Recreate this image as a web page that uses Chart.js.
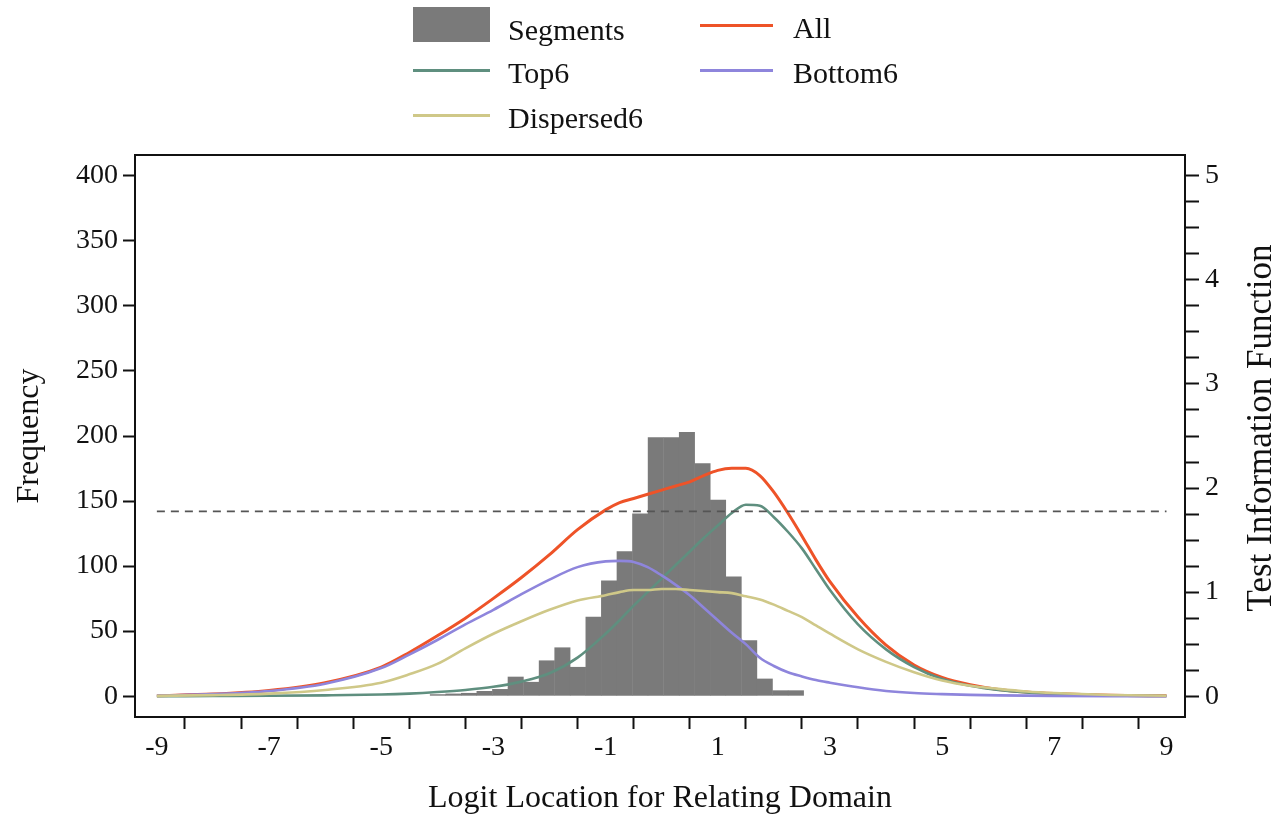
<!DOCTYPE html>
<html>
<head>
<meta charset="utf-8">
<script src="https://cdn.jsdelivr.net/npm/chart.js@4.4.1/dist/chart.umd.min.js"></script>
<style>
  html, body { margin: 0; padding: 0; background: #fff; }
  #wrap { position: relative; width: 1278px; height: 815px; }
  #chart { position: absolute; left: 0; top: 0; }
  .lg { position: absolute; font-family: 'Liberation Serif', serif; font-size: 30px; color: #111; line-height: 30px; }
  .sw { position: absolute; height: 3px; width: 77px; }
</style>
</head>
<body>
<div id="wrap">
  <canvas id="chart" width="1278" height="815"></canvas>
  <div class="sw" style="left:413px;top:7px;height:35px;background:#7a7a7a"></div>
  <div class="lg" style="left:508px;top:15px">Segments</div>
  <div class="sw" style="left:700px;top:24px;width:73px;background:#ee5328"></div>
  <div class="lg" style="left:793px;top:13px">All</div>
  <div class="sw" style="left:413px;top:69px;background:#5f8f7f"></div>
  <div class="lg" style="left:508px;top:58px">Top6</div>
  <div class="sw" style="left:700px;top:69px;width:73px;background:#8e85dc"></div>
  <div class="lg" style="left:793px;top:58px">Bottom6</div>
  <div class="sw" style="left:413px;top:114px;background:#cfc888"></div>
  <div class="lg" style="left:508px;top:103px">Dispersed6</div>
</div>
<script>
// histogram bins (logit centers) and counts
const binCenters = [-3.990, -3.713, -3.435, -3.158, -2.880, -2.603, -2.325, -2.048,
  -1.770, -1.493, -1.215, -0.938, -0.660, -0.383, -0.105, 0.173, 0.450, 0.728,
  1.005, 1.283, 1.560, 1.838, 2.115, 2.393];
const segments = [1.5, 2, 2.5, 4, 5.5, 15, 11, 27.5, 37.5, 22.5, 61, 89, 111.5,
  140.5, 199, 199, 203, 179, 151, 92, 43, 13.5, 4.5, 4.5];

// test information curves
const logit = [-9, -8, -7, -6, -5, -4.5, -4, -3.5, -3, -2.5, -2, -1.5, -1, -0.75,
  -0.5, -0.25, 0, 0.25, 0.5, 0.75, 1, 1.25, 1.5, 1.75, 2, 2.25, 2.5, 2.75, 3,
  3.5, 4, 4.5, 5, 5.5, 6, 6.5, 7, 8, 9];
const allTif = [0.005, 0.02, 0.055, 0.13, 0.28, 0.42, 0.58, 0.75, 0.94, 1.14, 1.36,
  1.60, 1.79, 1.86, 1.90, 1.94, 1.98, 2.02, 2.06, 2.12, 2.17, 2.19, 2.19, 2.12,
  1.96, 1.76, 1.54, 1.31, 1.10, 0.76, 0.49, 0.30, 0.18, 0.11, 0.065, 0.04, 0.025,
  0.008, 0.003];
const top6 = [0, 0.002, 0.004, 0.008, 0.016, 0.025, 0.04, 0.06, 0.09, 0.14, 0.22,
  0.37, 0.60, 0.73, 0.87, 1.00, 1.13, 1.26, 1.39, 1.52, 1.64, 1.76, 1.84, 1.83,
  1.72, 1.58, 1.42, 1.22, 1.02, 0.69, 0.45, 0.28, 0.165, 0.10, 0.06, 0.037, 0.023,
  0.007, 0.002];
const bottom6 = [0.005, 0.02, 0.05, 0.12, 0.27, 0.40, 0.54, 0.69, 0.83, 0.98, 1.12,
  1.24, 1.295, 1.30, 1.29, 1.24, 1.16, 1.07, 0.97, 0.85, 0.73, 0.61, 0.50, 0.37,
  0.29, 0.23, 0.19, 0.155, 0.13, 0.085, 0.05, 0.03, 0.02, 0.013, 0.008, 0.005,
  0.003, 0.001, 0];
const dispersed6 = [0.003, 0.01, 0.025, 0.06, 0.13, 0.21, 0.31, 0.46, 0.60, 0.72,
  0.83, 0.92, 0.97, 1.00, 1.02, 1.02, 1.03, 1.03, 1.02, 1.01, 1.00, 0.99, 0.96,
  0.93, 0.88, 0.82, 0.76, 0.68, 0.60, 0.45, 0.33, 0.23, 0.15, 0.10, 0.07, 0.045,
  0.03, 0.012, 0.004];

// dashed reference line (frequency)
const refX = [-9, 9];
const refFreq = [142, 142];

// ticks
const xTicks = [-9, -8, -7, -6, -5, -4, -3, -2, -1, 0, 1, 2, 3, 4, 5, 6, 7, 8, 9];
const freqTicks = [0, 50, 100, 150, 200, 250, 300, 350, 400];
const tifTicks = [0, 0.25, 0.5, 0.75, 1, 1.25, 1.5, 1.75, 2, 2.25, 2.5, 2.75, 3,
  3.25, 3.5, 3.75, 4, 4.25, 4.5, 4.75, 5];

const pts = (xs, ys) => xs.map((x, i) => ({ x: x, y: ys[i] }));

Chart.defaults.font.family = "'Liberation Serif', serif";
Chart.defaults.color = '#111';

const curve = (label, ys, color, w) => ({
  type: 'line', label: label, data: pts(logit, ys), yAxisID: 'yR',
  borderColor: color, borderWidth: w, pointRadius: 0,
  cubicInterpolationMode: 'monotone', fill: false
});

// box round the plot area, plus the right title read bottom-to-top
const framePlugin = {
  id: 'frame',
  afterDraw(chart) {
    const a = chart.chartArea, ctx = chart.ctx;
    ctx.save();
    ctx.strokeStyle = '#111';
    ctx.lineWidth = 2;
    ctx.strokeRect(a.left, a.top, a.right - a.left, a.bottom - a.top);
    ctx.translate(1262, (a.top + a.bottom) / 2 - 8);
    ctx.rotate(-Math.PI / 2);
    ctx.fillStyle = '#111';
    ctx.font = "35px 'Liberation Serif', serif";
    ctx.textAlign = 'center';
    ctx.textBaseline = 'middle';
    ctx.fillText('Test Information Function', 0, 0);
    ctx.restore();
  }
};

new Chart(document.getElementById('chart'), {
  type: 'line',
  data: {
    datasets: [
      {
        type: 'line', label: 'ref', data: pts(refX, refFreq), yAxisID: 'yL',
        borderColor: '#555', borderWidth: 1.8, borderDash: [8, 6], pointRadius: 0
      },
      curve('Dispersed6', dispersed6, '#cfc888', 2.6),
      curve('Bottom6', bottom6, '#8e85dc', 2.6),
      curve('Top6', top6, '#5f8f7f', 2.6),
      curve('All', allTif, '#ee5328', 3),
      {
        type: 'bar', label: 'Segments', data: pts(binCenters, segments), yAxisID: 'yL',
        backgroundColor: '#7a7a7a', borderWidth: 0,
        barPercentage: 1.03, categoryPercentage: 1, order: 10
      }
    ]
  },
  options: {
    responsive: false,
    animation: false,
    devicePixelRatio: 1,
    layout: { padding: { top: 155, left: 0, right: 0, bottom: 0 } },
    plugins: { legend: { display: false }, tooltip: { enabled: false } },
    scales: {
      x: {
        type: 'linear', min: -9.39, max: 9.33, offset: false,
        afterBuildTicks: s => { s.ticks = xTicks.map(v => ({ value: v })); },
        afterFit: s => { s.height = 98; },
        grid: { drawOnChartArea: false, drawTicks: true, tickLength: 12, tickColor: '#111', tickWidth: 2 },
        border: { display: false },
        ticks: {
          padding: 2, font: { size: 28 }, maxRotation: 0, autoSkip: false,
          callback: v => (v % 2 !== 0 ? String(v) : '')
        },
        title: { display: true, text: 'Logit Location for Relating Domain', font: { size: 32 }, padding: { top: 0, bottom: -3 } }
      },
      yL: {
        type: 'linear', position: 'left', min: -16, max: 416,
        afterBuildTicks: s => { s.ticks = freqTicks.map(v => ({ value: v })); },
        afterFit: s => { s.width = 135; },
        grid: { drawOnChartArea: false, drawTicks: true, tickLength: 12, tickColor: '#111', tickWidth: 2 },
        border: { display: false },
        ticks: { padding: 5, font: { size: 28 }, callback: v => String(v) },
        title: { display: true, text: 'Frequency', font: { size: 32 }, padding: { top: 10, bottom: 0 } }
      },
      yR: {
        type: 'linear', position: 'right', min: -0.2, max: 5.2,
        afterBuildTicks: s => { s.ticks = tifTicks.map(v => ({ value: v })); },
        afterFit: s => { s.width = 93; },
        grid: { drawOnChartArea: false, drawTicks: true, tickLength: 14, tickColor: '#111', tickWidth: 2 },
        border: { display: false },
        ticks: {
          padding: 6, font: { size: 28 }, autoSkip: false,
          callback: v => (Number.isInteger(v) ? String(v) : '')
        },
        title: { display: false }
      }
    }
  },
  plugins: [framePlugin]
});
</script>
</body>
</html>
